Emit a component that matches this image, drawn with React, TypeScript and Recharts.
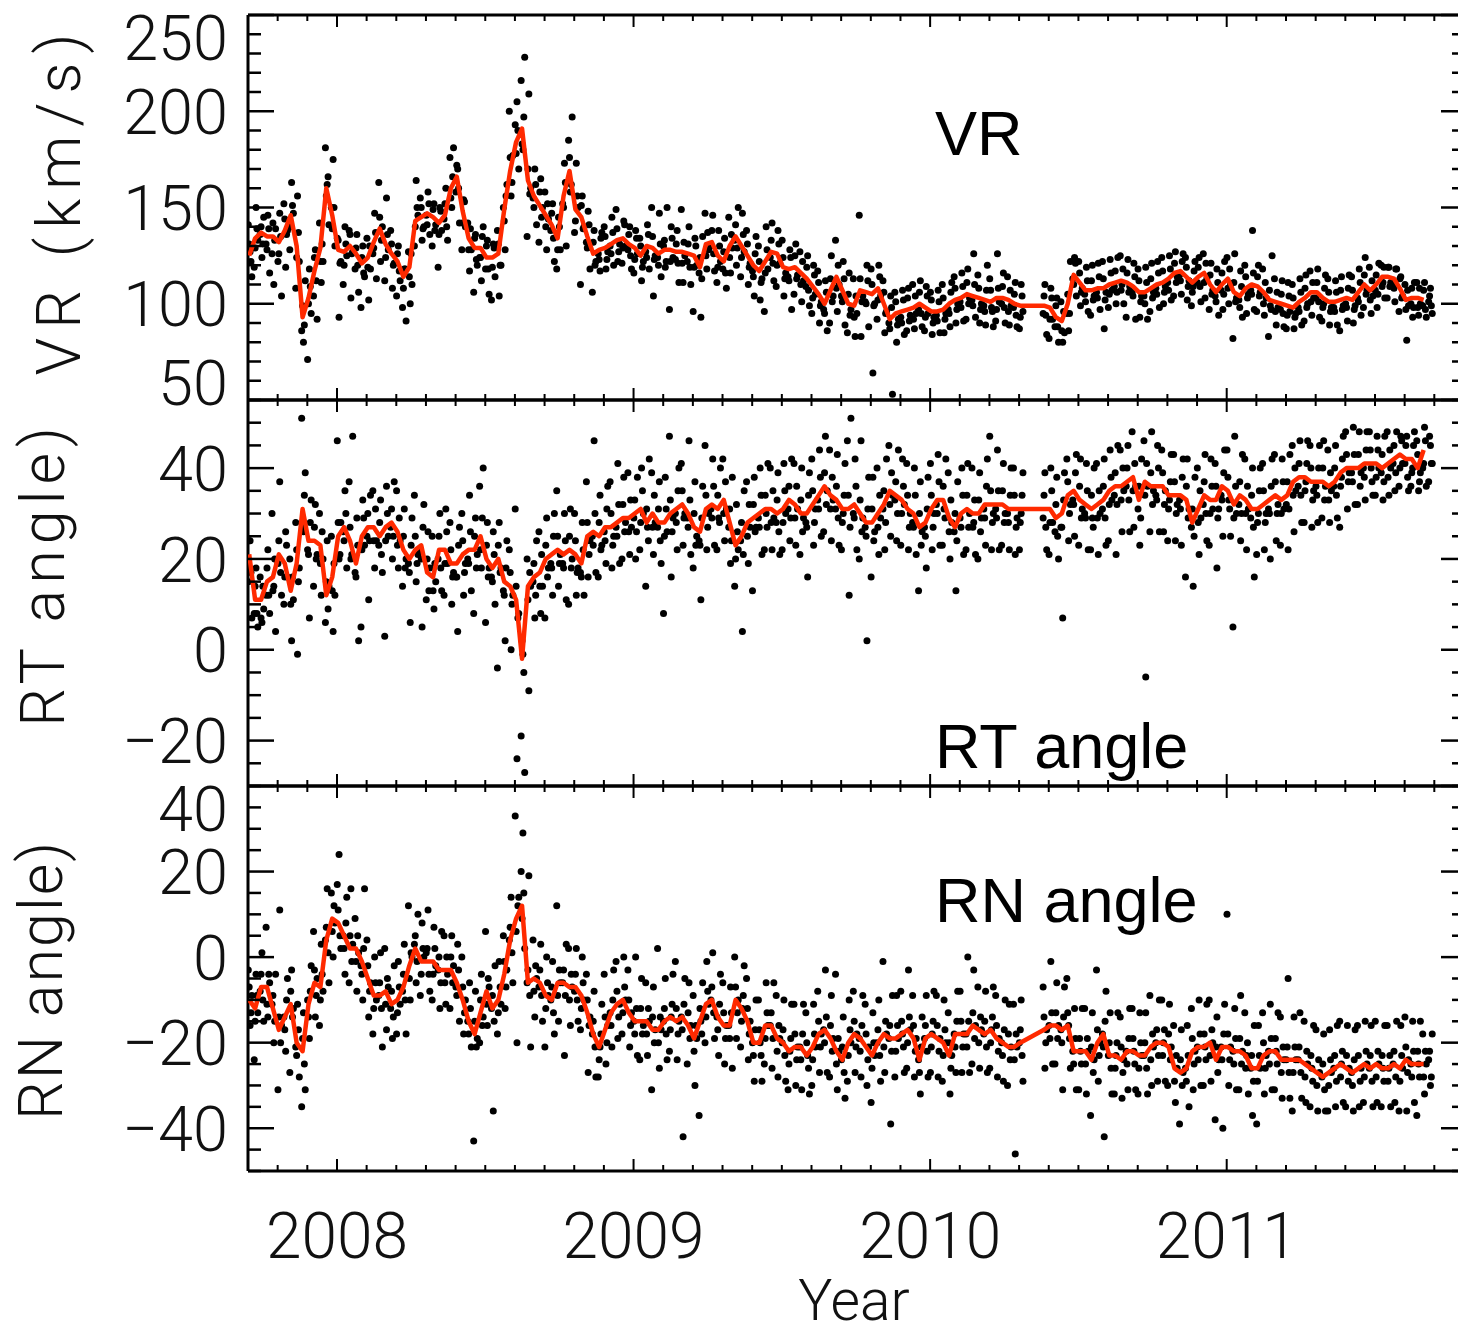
import React from "react";
import { ComposedChart, Line, Scatter, XAxis, YAxis, ReferenceLine } from "recharts";

// time grid: one column every 0.02 yr starting at 2007.70
const YEAR_START = 2007.7;
const COL_STEP = 0.02;
const SPREAD_OFFSETS = [0.001, 0.007, 0.013]; // three scattered samples per column
const CORE_OFFSETS = [0.004, 0.01]; // two samples per column close to the running mean
const X_DOMAIN: [number, number] = [2007.7, 2011.79];
const X_TICKS = Array.from({ length: 41 }, (_, k) => Math.round((2007.7 + k * 0.1) * 10) / 10);

// VR (km/s) running mean, one value per column (null = data gap)
const vrMean: (number | null)[] = [
  125, 134, 137, 135, 135, 132, 138, 146, 130, 93,
  103, 117, 129, 160, 146, 128, 127, 130, 126, 121,
  124, 132, 139, 131, 126, 122, 114, 119, 143, 145,
  147, 145, 142, 146, 160, 166, 148, 134, 129, 129,
  124, 124, 126, 149, 169, 184, 191, 164, 156, 151,
  146, 141, 134, 156, 169, 149, 145, 135, 126, 128,
  129, 131, 133, 134, 131, 129, 125, 130, 129, 126,
  128, 128, 127, 127, 126, 125, 119, 131, 132, 125,
  122, 130, 135, 130, 125, 120, 117, 122, 127, 126,
  119, 118, 119, 116, 113, 109, 105, 100, 107, 114,
  107, 100, 99, 107, 106, 105, 108, 100, 92, 95,
  96, 97, 98, 100, 98, 96, 96, 97, 100, 102,
  103, 105, 104, 103, 102, 101, 103, 103, 102, 100,
  99, null, null, null, 99, 98, 93, 91, 100, 115,
  111, 107, 107, 108, 108, 110, 111, 112, 111, 109,
  106, 106, 108, 110, 111, 113, 116, 117, 114, 111,
  114, 116, 110, 106, 110, 113, 106, 104, 108, 110,
  109, 106, 102, 101, 100, 99, 98, 101, 103, 106,
  106, 103, 101, 101, 102, 103, 102, 106, 110, 107,
  110, 114, 114, 113, 108, 102, 103, 103, 102, null,
];

// VR individual measurements, three widely scattered per column
const vrObs: (number | null)[] = [
  141, 127, 114, 119, 150, 133, 136, 124, 145, 131, 146, 116, 126, 110, 139,
  122, 147, 104, 152, 119, 138, 128, 163, 147, 108, 156, 122, 86, 80, 112,
  71, 118, 95, 104, 128, 92, 142, 111, 122, 181, 162, 141, 150, 175, 130,
  134, 93, 122, 110, 140, 125, 138, 103, 127, 118, 136, 106, 98, 130, 114,
  134, 102, 118, 126, 147, 113, 163, 122, 140, 112, 155, 128, 138, 108, 121,
  104, 130, 112, 98, 118, 91, 127, 100, 110, 130, 164, 146, 155, 133, 140,
  146, 158, 136, 130, 152, 141, 119, 150, 138, 144, 160, 133, 176, 150, 181,
  158, 170, 142, 128, 154, 140, 142, 117, 128, 106, 136, 120, 124, 112, 140,
  118, 133, 105, 102, 131, 114, 138, 104, 120, 150, 128, 162, 200, 156, 177,
  193, 205, 170, 216, 180, 228, 135, 209, 160, 155, 170, 141, 132, 165, 150,
  158, 128, 144, 138, 152, 122, 118, 145, 128, 152, 173, 130, 185, 158, 197,
  137, 173, 150, 110, 156, 140, 132, 148, 118, 106, 138, 122, 126, 117, 137,
  140, 118, 127, 130, 145, 120, 149, 122, 131, 121, 143, 130, 128, 140, 118,
  116, 138, 126, 134, 112, 122, 127, 141, 118, 150, 104, 125, 124, 147, 114,
  130, 119, 150, 97, 140, 124, 123, 138, 111, 149, 111, 125, 122, 140, 110,
  96, 134, 120, 116, 93, 135, 147, 118, 128, 130, 146, 117, 111, 138, 122,
  118, 134, 108, 145, 116, 129, 133, 120, 150, 114, 147, 127, 138, 110, 121,
  117, 104, 135, 130, 102, 113, 96, 140, 118, 124, 142, 112, 109, 138, 121,
  133, 104, 116, 114, 128, 97, 105, 131, 115, 127, 101, 112, 109, 125, 99,
  95, 120, 105, 117, 90, 101, 97, 112, 86, 90, 125, 104, 133, 96, 110,
  104, 122, 89, 85, 116, 97, 113, 83, 95, 146, 83, 104, 101, 120, 88,
  118, 64, 100, 92, 120, 104, 112, 85, 96, 90, 104, 53, 106, 80, 92,
  93, 107, 84, 86, 108, 94, 110, 87, 95, 97, 112, 88, 86, 109, 95,
  106, 84, 93, 94, 107, 85, 110, 85, 95, 97, 88, 111, 114, 90, 100,
  101, 116, 91, 92, 118, 103, 102, 126, 93, 115, 90, 100, 99, 89, 120,
  113, 98, 88, 91, 126, 101, 100, 116, 90, 114, 89, 99, 98, 111, 88,
  87, 110, 96, null, null, null, null, null, null, null, null, null, 95, 110, 84,
  82, 108, 92, 88, 103, 80, 101, 80, 85, 95, 86, 122, 113, 124, 104,
  122, 99, 108, 105, 119, 96, 94, 120, 104, 106, 121, 97, 122, 87, 106,
  98, 123, 107, 109, 100, 124, 125, 110, 100, 93, 123, 109, 106, 121, 92,
  118, 93, 104, 104, 119, 92, 96, 121, 106, 108, 122, 98, 124, 100, 109,
  111, 125, 102, 104, 127, 114, 115, 105, 126, 124, 102, 112, 99, 109, 122,
  111, 124, 101, 126, 103, 113, 97, 121, 107, 104, 118, 94, 107, 97, 122,
  124, 100, 110, 82, 126, 103, 102, 117, 93, 120, 95, 105, 107, 138, 97,
  96, 120, 106, 118, 94, 103, 83, 99, 125, 113, 89, 98, 97, 112, 88,
  87, 111, 96, 110, 87, 95, 98, 113, 89, 91, 115, 100, 117, 94, 103,
  103, 118, 93, 91, 100, 115, 113, 89, 98, 98, 112, 89, 86, 114, 99,
  100, 91, 115, 114, 90, 99, 103, 118, 94, 98, 124, 107, 119, 95, 104,
  107, 98, 121, 120, 111, 103, 103, 119, 111, 110, 101, 118, 96, 114, 104,
  110, 81, 99, 100, 93, 111, 111, 94, 100, 99, 111, 93, 101, 108, 95,
];

// VR measurements close to the mean, two per column
const vrCore: (number | null)[] = [
  131, 122, 129, 139, 140, 131, 128, 139, 142, 133, 126, 135, 144, 136, 140, 151, 124, 137, 99, 89,
  100, 109, 124, 112, 122, 131, 156, 166, 139, 150, 133, 121, 120, 131, 136, 126, 129, 120, 124, 116,
  119, 130, 129, 137, 145, 133, 124, 136, 131, 120, 126, 117, 108, 118, 114, 126, 140, 150, 150, 139,
  141, 152, 149, 138, 136, 148, 152, 140, 155, 166, 172, 160, 142, 153, 128, 139, 134, 123, 124, 135,
  130, 118, 119, 129, 131, 120, 143, 156, 176, 163, 178, 190, 183, 197, 170, 157, 150, 162, 158, 145,
  140, 152, 147, 134, 128, 140, 150, 163, 176, 162, 143, 156, 151, 139, 129, 141, 132, 120, 123, 134,
  135, 123, 126, 137, 139, 127, 129, 141, 136, 125, 123, 134, 130, 119, 124, 136, 135, 123, 120, 131,
  133, 122, 122, 134, 131, 121, 121, 132, 131, 119, 119, 130, 124, 113, 125, 137, 138, 126, 119, 130,
  127, 116, 124, 136, 141, 129, 124, 136, 131, 119, 114, 126, 122, 111, 116, 128, 133, 121, 120, 131,
  124, 113, 112, 124, 125, 113, 110, 122, 119, 107, 103, 115, 111, 99, 95, 106, 113, 101, 108, 120,
  101, 113, 105, 94, 93, 104, 113, 101, 100, 112, 110, 99, 102, 114, 106, 95, 87, 98, 101, 89,
  90, 102, 103, 91, 92, 104, 106, 95, 93, 104, 102, 90, 91, 101, 103, 92, 95, 106, 108, 97,
  98, 109, 111, 100, 99, 110, 108, 97, 96, 107, 107, 96, 97, 108, 109, 98, 96, 107, 105, 94,
  93, 104, null, null, null, null, null, null, 104, 94, 92, 103, 99, 88, 86, 96, 105, 95, 110, 121,
  116, 106, 101, 112, 112, 102, 103, 114, 113, 102, 105, 116, 117, 106, 107, 118, 116, 106, 104, 114,
  112, 101, 100, 111, 113, 103, 105, 116, 117, 106, 107, 118, 121, 111, 112, 122, 119, 109, 106, 117,
  119, 109, 111, 121, 115, 105, 101, 111, 116, 105, 108, 118, 111, 101, 98, 109, 114, 103, 105, 116,
  114, 104, 100, 111, 107, 97, 96, 106, 105, 95, 94, 104, 103, 93, 96, 106, 108, 98, 101, 111,
  111, 101, 98, 108, 106, 96, 96, 106, 107, 97, 98, 108, 107, 97, 101, 111, 115, 105, 102, 112,
  115, 105, 109, 119, 119, 109, 108, 118, 113, 103, 97, 107, 108, 98, 98, 108, 107, 97, 104, 99,
];

// RT angle running mean
const rtMean: (number | null)[] = [
  21, 11, 11, 15, 16, 21, 19, 13, 19, 31,
  24, 24, 23, 12, 16, 25, 27, 24, 19, 25,
  27, 27, 25, 27, 28, 26, 22, 20, 22, 23,
  17, 16, 22, 22, 19, 19, 21, 22, 22, 25,
  20, 18, 20, 15, 14, 11, -2, 14, 16, 17,
  20, 21, 22, 21, 22, 21, 19, 25, 26, 25,
  27, 27, 28, 29, 29, 30, 31, 28, 30, 28,
  28, 30, 31, 32, 30, 27, 26, 31, 32, 31,
  33, 28, 23, 25, 28, 29, 30, 31, 31, 30,
  31, 33, 32, 30, 30, 32, 34, 36, 34, 33,
  31, 31, 32, 30, 28, 28, 30, 32, 35, 34,
  33, 31, 30, 27, 28, 31, 33, 33, 29, 27,
  30, 31, 30, 30, 32, 32, 32, 32, 31, 31,
  31, null, null, null, 31, 31, 29, 30, 34, 35,
  33, 32, 31, 32, 33, 35, 36, 36, 37, 38,
  33, 37, 36, 36, 36, 34, 34, 34, 33, 28,
  31, 34, 33, 33, 36, 35, 32, 34, 33, 31,
  31, 32, 33, 34, 33, 34, 37, 38, 38, 37,
  37, 37, 36, 37, 39, 40, 40, 40, 41, 41,
  41, 40, 41, 42, 43, 42, 42, 40, 44, null,
];

const rtObs: (number | null)[] = [
  15, 24, 7, 8, 18, 5, 16, 6, 9, 12, 22, 8, 30, 14, 4,
  19, 37, 12, 10, 26, 16, 20, 2, 11, 28, -1, 18, 51, 26, 39,
  22, 7, 33, 14, 32, 21, 30, 12, 20, 6, 24, 14, 25, 4, 12,
  46, 20, 28, 26, 35, 18, 37, 20, 47, 17, 29, 2, 5, 33, 23,
  25, 11, 34, 35, 18, 24, 23, 33, 17, 3, 36, 25, 27, 20, 37,
  35, 18, 24, 14, 31, 20, 19, 6, 29, 34, 15, 21, 22, 5, 32,
  11, 26, 18, 25, 9, 15, 20, 30, 13, 12, 31, 19, 28, 10, 17,
  16, 4, 27, 30, 12, 19, 20, 34, 13, 8, 29, 21, 36, 18, 40,
  6, 28, 18, 16, 26, 10, -4, 28, 18, 13, 2, 24, 22, 0, 12,
  31, -24, 8, -19, -1, -27, 20, -9, 14, 15, 7, 24, 26, 8, 14,
  7, 29, 18, 19, 12, 30, 35, 14, 21, 19, 30, 11, 10, 31, 20,
  30, 12, 18, 17, 28, 12, 37, 16, 24, 25, 46, 17, 16, 34, 23,
  26, 19, 36, 37, 18, 25, 27, 41, 19, 20, 38, 28, 39, 21, 27,
  29, 20, 38, 22, 40, 30, 14, 27, 42, 39, 21, 28, 27, 37, 19,
  8, 38, 26, 47, 16, 29, 30, 22, 40, 41, 23, 30, 29, 46, 21,
  18, 37, 25, 24, 11, 36, 45, 22, 30, 31, 42, 23, 22, 29, 40,
  42, 24, 31, 27, 19, 38, 14, 32, 22, 24, 4, 35, 37, 19, 27,
  13, 38, 27, 29, 40, 21, 22, 30, 41, 40, 22, 29, 28, 39, 21,
  22, 41, 30, 31, 24, 42, 41, 23, 31, 21, 40, 29, 28, 16, 39,
  42, 23, 31, 33, 44, 25, 26, 47, 35, 44, 24, 33, 31, 43, 23,
  22, 30, 41, 46, 12, 51, 30, 42, 22, 20, 46, 29, 27, 2, 38,
  16, 38, 26, 40, 21, 29, 31, 22, 42, 45, 25, 34, 33, 24, 44,
  23, 42, 32, 41, 22, 30, 28, 40, 21, 13, 37, 26, 27, 18, 38,
  41, 22, 30, 32, 43, 23, 23, 31, 42, 39, 20, 28, 26, 13, 37,
  29, 40, 21, 22, 41, 30, 40, 28, 21, 20, 39, 29, 31, 23, 42,
  47, 22, 30, 31, 44, 22, 23, 41, 30, 30, 22, 40, 40, 21, 29,
  22, 30, 39, null, null, null, null, null, null, null, null, null, 29, 39, 22,
  21, 40, 28, 26, 38, 20, 27, 7, 39, 42, 24, 32, 33, 25, 43,
  23, 42, 31, 30, 41, 22, 22, 29, 40, 41, 21, 30, 31, 42, 23,
  24, 44, 33, 34, 21, 45, 44, 26, 35, 36, 45, 26, 48, 27, 36,
  31, 23, 42, 46, -6, 36, 26, 48, 35, 34, 45, 26, 44, 26, 35,
  24, 33, 43, 43, 24, 32, 33, 23, 42, 16, 42, 31, 27, 14, 38,
  40, 21, 29, 32, 43, 24, 23, 42, 31, 41, 18, 31, 34, 25, 44,
  44, 33, 25, 5, 47, 30, 32, 24, 43, 42, 22, 31, 29, 40, 16,
  21, 30, 40, 41, 22, 30, 31, 20, 42, 43, 24, 32, 23, 42, 31,
  32, 22, 43, 45, 26, 35, 36, 46, 28, 28, 37, 46, 45, 27, 35,
  36, 28, 45, 29, 46, 36, 44, 28, 35, 36, 45, 29, 27, 38, 47,
  48, 31, 39, 39, 49, 32, 32, 48, 39, 40, 33, 48, 48, 40, 34,
  34, 47, 40, 39, 33, 47, 48, 34, 40, 41, 35, 48, 36, 47, 41,
  41, 47, 35, 36, 40, 48, 46, 35, 39, 40, 49, 36, 37, 45, 41,
];

const rtCore: (number | null)[] = [
  24, 17, 14, 8, 7, 14, 18, 12, 13, 20, 24, 17, 16, 23, 10, 16, 22, 15, 27, 34,
  21, 28, 27, 20, 19, 26, 15, 9, 13, 19, 28, 21, 24, 30, 27, 21, 16, 23, 22, 29,
  30, 24, 24, 31, 28, 21, 24, 30, 31, 25, 23, 29, 25, 18, 17, 23, 25, 19, 20, 27,
  20, 13, 13, 19, 25, 18, 19, 26, 22, 16, 16, 23, 24, 17, 19, 26, 25, 18, 22, 29,
  23, 16, 15, 21, 23, 17, 12, 18, 17, 10, 14, 7, 2, -5, 11, 17, 19, 12, 14, 21,
  23, 16, 18, 25, 25, 19, 18, 24, 25, 18, 24, 17, 16, 22, 28, 21, 23, 30, 28, 22,
  24, 31, 30, 23, 25, 32, 32, 26, 26, 33, 33, 26, 28, 35, 31, 24, 27, 34, 31, 24,
  25, 31, 33, 26, 28, 35, 35, 29, 27, 33, 30, 23, 23, 29, 34, 27, 29, 36, 34, 28,
  30, 37, 31, 24, 20, 26, 28, 21, 25, 32, 32, 26, 27, 34, 34, 27, 28, 35, 33, 26,
  28, 35, 36, 29, 29, 36, 33, 26, 27, 34, 35, 28, 31, 38, 39, 32, 31, 38, 36, 29,
  28, 34, 34, 27, 29, 36, 33, 26, 25, 31, 31, 24, 27, 34, 35, 28, 32, 39, 37, 30,
  30, 36, 34, 27, 27, 34, 30, 23, 25, 31, 34, 27, 30, 37, 36, 29, 26, 33, 30, 24,
  27, 34, 34, 27, 27, 33, 33, 26, 29, 36, 35, 28, 29, 35, 35, 28, 28, 34, 34, 27,
  28, 34, null, null, null, null, null, null, 34, 27, 28, 35, 32, 25, 27, 33, 37, 30, 32, 39,
  36, 29, 29, 35, 34, 27, 29, 35, 36, 29, 32, 38, 39, 32, 33, 40, 40, 33, 35, 41,
  36, 29, 34, 41, 39, 32, 33, 40, 39, 32, 31, 37, 37, 30, 31, 38, 36, 29, 31, 25,
  28, 35, 37, 30, 30, 36, 36, 29, 33, 39, 38, 31, 29, 36, 37, 30, 30, 36, 34, 27,
  28, 35, 35, 28, 30, 36, 37, 30, 30, 37, 37, 31, 34, 40, 41, 34, 35, 41, 40, 33,
  34, 40, 40, 33, 33, 39, 40, 34, 36, 42, 43, 37, 37, 43, 43, 36, 38, 44, 44, 37,
  38, 44, 43, 37, 38, 44, 45, 39, 40, 46, 45, 38, 39, 45, 43, 37, 41, 46, 47, 41,
];

// RN angle running mean
const rnMean: (number | null)[] = [
  -10, -12, -7, -7, -12, -17, -14, -11, -20, -22,
  -11, -6, -7, 4, 9, 8, 5, 2, 2, -1,
  -5, -9, -9, -8, -11, -10, -7, -2, 2, -1,
  -1, -1, -3, -3, -3, -6, -10, -15, -18, -13,
  -8, -12, -10, -4, 4, 9, 12, -6, -5, -6,
  -9, -10, -6, -6, -7, -7, -9, -13, -18, -21,
  -17, -13, -11, -10, -13, -15, -15, -15, -17, -17,
  -15, -14, -15, -14, -16, -19, -15, -11, -10, -14,
  -16, -16, -10, -12, -15, -20, -20, -16, -16, -19,
  -20, -22, -21, -21, -23, -21, -18, -17, -19, -22,
  -24, -20, -18, -19, -21, -23, -20, -18, -19, -19,
  -18, -17, -19, -24, -19, -18, -19, -20, -23, -18,
  -18, -18, -16, -17, -18, -17, -19, -20, -21, -21,
  -20, null, null, null, -17, -16, -16, -17, -16, -22,
  -22, -22, -24, -20, -18, -23, -23, -24, -22, -22,
  -23, -23, -21, -20, -20, -21, -26, -27, -26, -22,
  -21, -21, -20, -24, -21, -21, -22, -22, -23, -26,
  -26, -23, -22, -22, -24, -24, -24, -24, -25, -26,
  -27, -28, -27, -26, -25, -26, -27, -26, -25, -26,
  -25, -26, -26, -25, -26, -24, -25, -25, -25, null,
];

const rnObs: (number | null)[] = [
  -3, -16, -9, -24, -4, -13, -8, 1, -15, 7, -14, -6, -11, -20, -4,
  -31, 11, -16, -14, -22, -5, -27, -3, -12, -21, -11, -28, -35, -13, -31,
  -10, -19, -2, 6, -14, -5, -16, 3, -8, 4, 16, -6, 15, 0, 8,
  17, 24, 2, 5, -4, 14, -6, 16, 3, 9, -8, 1, -2, -10, 16,
  4, -14, -6, -18, 0, -10, -9, 1, -21, 2, -17, -7, -12, -19, -2,
  -18, -1, -11, -8, 3, -18, 12, -10, 0, 3, -6, 10, -9, 8, 0,
  1, 11, -8, -10, 7, -2, -3, -12, 6, 5, -11, -4, -12, 5, -2,
  -7, 3, -15, 0, -18, -10, -15, -6, -21, -43, -8, -19, -20, -4, -14,
  6, -16, -7, -12, -36, -2, -18, -1, -11, 5, -12, -3, 4, 14, -6,
  33, -20, 14, 20, 29, 2, -6, 19, -21, 4, -14, -5, -7, 3, -15,
  -21, 0, -9, -10, -1, -18, 12, -15, -6, -6, -23, 3, 2, -16, -7,
  -8, 2, -15, -17, 0, -10, -4, -27, -14, -18, -8, -28, -28, -21, -11,
  -4, -25, -16, -13, -21, -3, -1, -19, -11, -18, 0, -10, -3, -21, -13,
  -15, 0, -23, -24, -5, -16, -6, -23, -15, -31, -7, -17, 2, -26, -17,
  -15, -5, -24, -22, -14, -4, -1, -24, -15, -14, -42, -5, -25, -6, -16,
  -9, -30, -19, -37, -15, -6, -20, -1, -11, -10, 1, -19, -14, -23, -4,
  -6, -25, -16, -16, -7, -26, 0, -19, -10, -21, -12, -2, -5, -24, -15,
  -20, -29, -10, -10, -20, -29, -25, -6, -16, -16, -26, -6, -9, -28, -19,
  -20, -10, -29, -31, -22, -11, -11, -30, -21, -21, -31, -11, -13, -23, -32,
  -30, -11, -21, -8, -27, -18, -17, -3, -27, -28, -9, -19, -4, -31, -22,
  -24, -14, -33, -29, -10, -20, -8, -27, -18, -19, -28, -9, -11, -30, -21,
  -34, -13, -23, -20, -10, -29, -1, -27, -18, -19, -39, -9, -28, -9, -19,
  -8, -18, -27, -26, -3, -17, -9, -28, -19, -24, -32, -14, -19, -9, -28,
  -27, -18, -8, -9, -28, -19, -29, -10, -20, -13, -32, -23, -18, -27, -8,
  -8, -27, -18, -18, 0, -27, -25, -3, -16, -7, -26, -17, -18, -8, -27,
  -26, -17, -7, -9, -28, -19, -20, -29, -10, -30, -11, -21, -11, -46, -21,
  -20, -10, -29, null, null, null, null, null, null, null, null, null, -7, -26, -17,
  -16, -1, -25, -25, -6, -16, -17, -31, -7, -5, -16, -26, -22, -12, -31,
  -31, -22, -12, -12, -32, -22, -37, -13, -24, -3, -29, -20, -18, -42, -8,
  -23, -13, -32, -32, -23, -13, -14, -33, -24, -22, -31, -12, -12, -22, -31,
  -32, -13, -23, -23, -13, -32, -9, -30, -21, -20, -29, -10, -10, -20, -29,
  -30, -11, -21, -16, -34, -26, -39, -17, -27, -26, -16, -35, -12, -31, -22,
  -21, -10, -30, -30, -21, -11, -10, -29, -20, -38, -14, -24, -21, -40, -11,
  10, -30, -21, -22, -12, -31, -31, -9, -22, -13, -23, -32, -26, -37, -16,
  -39, -16, -26, -13, -32, -23, -22, -11, -31, -31, -22, -13, -14, -33, -24,
  -24, -5, -33, -36, -14, -24, -24, -13, -33, -15, -34, -25, -35, -26, -16,
  -17, -36, -27, -28, -18, -36, -36, -17, -27, -26, -35, -16, -15, -25, -34,
  -35, -16, -26, -27, -36, -17, -16, -35, -26, -34, -15, -25, -26, -16, -35,
  -15, -34, -25, -35, -26, -16, -16, -26, -35, -25, -34, -15, -36, -16, -26,
  -14, -36, -24, -25, -15, -34, -37, -25, -15, -18, -32, -25, -24, -30, -18,
];

const rnCore: (number | null)[] = [
  -7, -13, -15, -9, -4, -10, -11, -4, -9, -15, -14, -20, -17, -10, -8, -14, -23, -17, -19, -25,
  -14, -8, -3, -9, -10, -4, 7, 1, 6, 12, 11, 5, 2, 8, 5, -1, -1, 5, -4, 2,
  -2, -8, -12, -6, -6, -12, -11, -5, -8, -14, -13, -7, -4, -10, -5, 1, 5, -1, -4, 2,
  2, -4, -4, 2, 0, -6, -6, 0, 0, -6, -9, -3, -7, -13, -18, -12, -15, -21, -10, -16,
  -11, -5, -9, -15, -13, -7, -1, -7, 7, 1, 6, 12, 9, 15, -3, -9, -8, -2, -3, -9,
  -12, -6, -7, -13, -9, -3, -3, -9, -10, -4, -4, -10, -12, -6, -10, -16, -15, -21, -24, -18,
  -14, -20, -16, -10, -8, -14, -13, -7, -10, -16, -18, -12, -12, -18, -18, -12, -14, -20, -20, -14,
  -12, -18, -17, -11, -12, -18, -17, -11, -13, -19, -22, -16, -12, -18, -14, -8, -7, -13, -17, -11,
  -13, -19, -19, -13, -7, -13, -15, -9, -12, -18, -23, -17, -17, -23, -19, -13, -13, -19, -22, -16,
  -17, -23, -25, -19, -18, -24, -24, -18, -20, -26, -24, -18, -15, -21, -20, -14, -16, -22, -25, -19,
  -21, -27, -23, -17, -15, -21, -22, -16, -18, -24, -26, -20, -17, -23, -21, -15, -16, -22, -22, -16,
  -15, -21, -20, -14, -16, -22, -27, -21, -16, -22, -21, -15, -16, -22, -23, -17, -20, -26, -21, -15,
  -15, -21, -21, -15, -13, -19, -20, -14, -15, -21, -20, -14, -16, -22, -23, -17, -18, -24, -24, -18,
  -17, -23, null, null, null, null, null, null, -14, -20, -19, -13, -13, -19, -20, -14, -13, -19, -25, -19,
  -19, -25, -25, -19, -21, -27, -17, -23, -21, -15, -20, -26, -26, -20, -21, -27, -25, -19, -19, -25,
  -26, -20, -20, -26, -24, -18, -17, -23, -23, -17, -18, -24, -29, -23, -24, -30, -29, -23, -19, -25,
  -24, -18, -18, -24, -23, -17, -21, -27, -24, -18, -18, -24, -25, -19, -19, -25, -26, -20, -23, -29,
  -29, -23, -20, -26, -25, -19, -19, -25, -27, -21, -21, -27, -27, -21, -21, -27, -28, -22, -23, -29,
  -30, -24, -25, -31, -30, -24, -23, -29, -28, -22, -23, -29, -30, -24, -23, -29, -28, -22, -23, -29,
  -28, -22, -23, -29, -29, -23, -22, -28, -29, -23, -21, -27, -28, -22, -22, -28, -28, -22, -22, -28,
];

// axis text imitates the thin plotting font; panel tags are plain Arial-like
const AXIS_FONT = 'Roboto, "Liberation Sans", Arial, sans-serif';
const TAG_FONT = '"Liberation Sans", Arial, Helvetica, sans-serif';
const CHART_W = 1461;
const PLOT_LEFT = 248;
const PLOT_RIGHT = 1461;
const FRAME_W = 3;
const INK = "#111";
const RED = "#ff2a00";

type Pt = { t: number; v: number | null };

function toObs(values: (number | null)[], offsets: number[]): Pt[] {
  const n = offsets.length;
  const pts: Pt[] = [];
  values.forEach((v, k) => {
    if (v === null) return;
    const col = Math.floor(k / n);
    pts.push({ t: YEAR_START + col * COL_STEP + offsets[k % n], v });
  });
  return pts;
}

function toMean(values: (number | null)[]): Pt[] {
  return values.map((v, i) => ({ t: YEAR_START + i * COL_STEP + 0.004, v }));
}

function range(a: number, b: number, step: number) {
  const out: number[] = [];
  for (let v = a; v <= b; v += step) out.push(v);
  return out;
}

const fmt = (v: number) => (v < 0 ? `\u2212${Math.abs(v)}` : String(v));

function makeYTick(major: number[], labels: number[], shift: Record<string, number>) {
  return (props: any) => {
    const { y, payload } = props;
    const v: number = payload.value;
    const isMajor = major.includes(v);
    return (
      <g>
        <line x1={PLOT_LEFT} x2={PLOT_LEFT + (isMajor ? 26 : 13)} y1={y} y2={y} stroke="#000" strokeWidth={2.5} />
        <line x1={PLOT_RIGHT} x2={PLOT_RIGHT - (isMajor ? 20 : 9)} y1={y} y2={y} stroke="#000" strokeWidth={2.5} />
        {labels.includes(v) && (
          <text
            x={PLOT_LEFT - 20}
            y={y + (shift[String(v)] ?? 0)}
            dy="0.36em"
            textAnchor="end"
            fontFamily={AXIS_FONT}
            fontWeight={300}
            fontSize={63}
            fill={INK}
          >
            {fmt(v)}
          </text>
        )}
      </g>
    );
  };
}

function makeXTick(plotTop: number, showYears: boolean) {
  return (props: any) => {
    const { x, y, payload } = props;
    const v: number = payload.value;
    const isMajor = Math.abs(v - Math.round(v)) < 1e-6;
    const len = isMajor ? 12 : 6;
    return (
      <g>
        <line x1={x} x2={x} y1={y} y2={y - len} stroke="#000" strokeWidth={2} />
        <line x1={x} x2={x} y1={plotTop} y2={plotTop + len} stroke="#000" strokeWidth={2} />
        {showYears && isMajor && (
          <text x={x} y={y + 87} textAnchor="middle" fontFamily={AXIS_FONT} fontWeight={300} fontSize={64} fill={INK}>
            {Math.round(v)}
          </text>
        )}
      </g>
    );
  };
}

const dot = (p: any) => <circle cx={p.cx} cy={p.cy} r={3.5} fill="#000" />;

type PanelProps = {
  top: number;
  marginTop: number;
  marginBottom: number;
  plotHeight: number;
  yDomain: [number, number];
  yTicks: number[];
  yMajor: number[];
  yLabels: number[];
  labelShift: Record<string, number>;
  mean: Pt[];
  spread: Pt[];
  core: Pt[];
  showYears: boolean;
  renderLabels: () => React.ReactElement;
};

function Panel(p: PanelProps) {
  // x axis reserves 1px, so the plot keeps its intended height
  const height = p.marginTop + p.plotHeight + 1 + p.marginBottom;
  return (
    <div style={{ position: "absolute", left: 0, top: p.top }}>
      <ComposedChart
        width={CHART_W}
        height={height}
        margin={{ top: p.marginTop, right: 0, bottom: p.marginBottom, left: 0 }}
      >
        <XAxis
          type="number"
          dataKey="t"
          domain={X_DOMAIN}
          allowDataOverflow
          ticks={X_TICKS}
          interval={0}
          height={1}
          tickSize={0}
          tickMargin={0}
          tickLine={false}
          axisLine={{ stroke: "#000", strokeWidth: FRAME_W }}
          tick={makeXTick(p.marginTop, p.showYears)}
        />
        <YAxis
          type="number"
          dataKey="v"
          domain={p.yDomain}
          allowDataOverflow
          ticks={p.yTicks}
          interval={0}
          width={PLOT_LEFT}
          tickSize={0}
          tickMargin={0}
          tickLine={false}
          axisLine={{ stroke: "#000", strokeWidth: FRAME_W }}
          tick={makeYTick(p.yMajor, p.yLabels, p.labelShift)}
          label={{ content: p.renderLabels }}
        />
        <ReferenceLine y={p.yDomain[1]} stroke="#000" strokeWidth={FRAME_W} />
        <Scatter data={p.spread} dataKey="v" fill="#000" shape={dot} isAnimationActive={false} />
        <Scatter data={p.core} dataKey="v" fill="#000" shape={dot} isAnimationActive={false} />
        <Line
          data={p.mean}
          dataKey="v"
          type="linear"
          stroke={RED}
          strokeWidth={4.5}
          strokeLinejoin="round"
          dot={false}
          activeDot={false}
          connectNulls
          isAnimationActive={false}
          zIndex={900}
        />
      </ComposedChart>
    </div>
  );
}

const tagStyle = { fontFamily: TAG_FONT, fontSize: 63, fill: "#000" } as const;
const titleBase = { fontFamily: AXIS_FONT, fontWeight: 300, fontSize: 61, fill: INK } as const;

export default function App() {
  return (
    <div
      style={{
        position: "absolute",
        left: 0,
        top: 0,
        width: 1458,
        height: 1333,
        overflow: "hidden",
        background: "#fff",
      }}
    >
      <Panel
        top={0}
        marginTop={15}
        marginBottom={40}
        plotHeight={385}
        yDomain={[50, 250]}
        yTicks={range(50, 250, 10)}
        yMajor={[50, 100, 150, 200, 250]}
        yLabels={[50, 100, 150, 200, 250]}
        labelShift={{ "250": 22, "50": -18 }}
        mean={toMean(vrMean)}
        spread={toObs(vrObs, SPREAD_OFFSETS)}
        core={toObs(vrCore, CORE_OFFSETS)}
        showYears={false}
        renderLabels={() => (
          <g>
            <text transform="translate(80,200) rotate(-90)" textAnchor="middle" letterSpacing={9} {...titleBase}>
              VR (km/s)
            </text>
            <text x={935} y={155} {...tagStyle}>
              VR
            </text>
          </g>
        )}
      />
      <Panel
        top={360}
        marginTop={40}
        marginBottom={40}
        plotHeight={386}
        yDomain={[-30, 55]}
        yTicks={range(-30, 55, 5)}
        yMajor={[-20, 0, 20, 40]}
        yLabels={[-20, 0, 20, 40]}
        labelShift={{}}
        mean={toMean(rtMean)}
        spread={toObs(rtObs, SPREAD_OFFSETS)}
        core={toObs(rtCore, CORE_OFFSETS)}
        showYears={false}
        renderLabels={() => (
          <g>
            <text transform="translate(64,214) rotate(-90)" textAnchor="middle" letterSpacing={6} {...titleBase}>
              RT angle)
            </text>
            <text x={935} y={408} {...tagStyle}>
              RT angle
            </text>
          </g>
        )}
      />
      <Panel
        top={746}
        marginTop={40}
        marginBottom={161}
        plotHeight={385}
        yDomain={[-50, 40]}
        yTicks={range(-50, 40, 5)}
        yMajor={[-40, -20, 0, 20, 40]}
        yLabels={[-40, -20, 0, 20, 40]}
        labelShift={{ "40": 22 }}
        mean={toMean(rnMean)}
        spread={toObs(rnObs, SPREAD_OFFSETS)}
        core={toObs(rnCore, CORE_OFFSETS)}
        showYears
        renderLabels={() => (
          <g>
            <text transform="translate(62,234) rotate(-90)" textAnchor="middle" letterSpacing={2} {...titleBase}>
              RN angle)
            </text>
            <text x={935} y={176} {...tagStyle}>
              RN angle
            </text>
            <text
              x={854}
              y={574}
              textAnchor="middle"
              fontFamily={AXIS_FONT}
              fontWeight={300}
              fontSize={57}
              fill={INK}
            >
              Year
            </text>
          </g>
        )}
      />
    </div>
  );
}
